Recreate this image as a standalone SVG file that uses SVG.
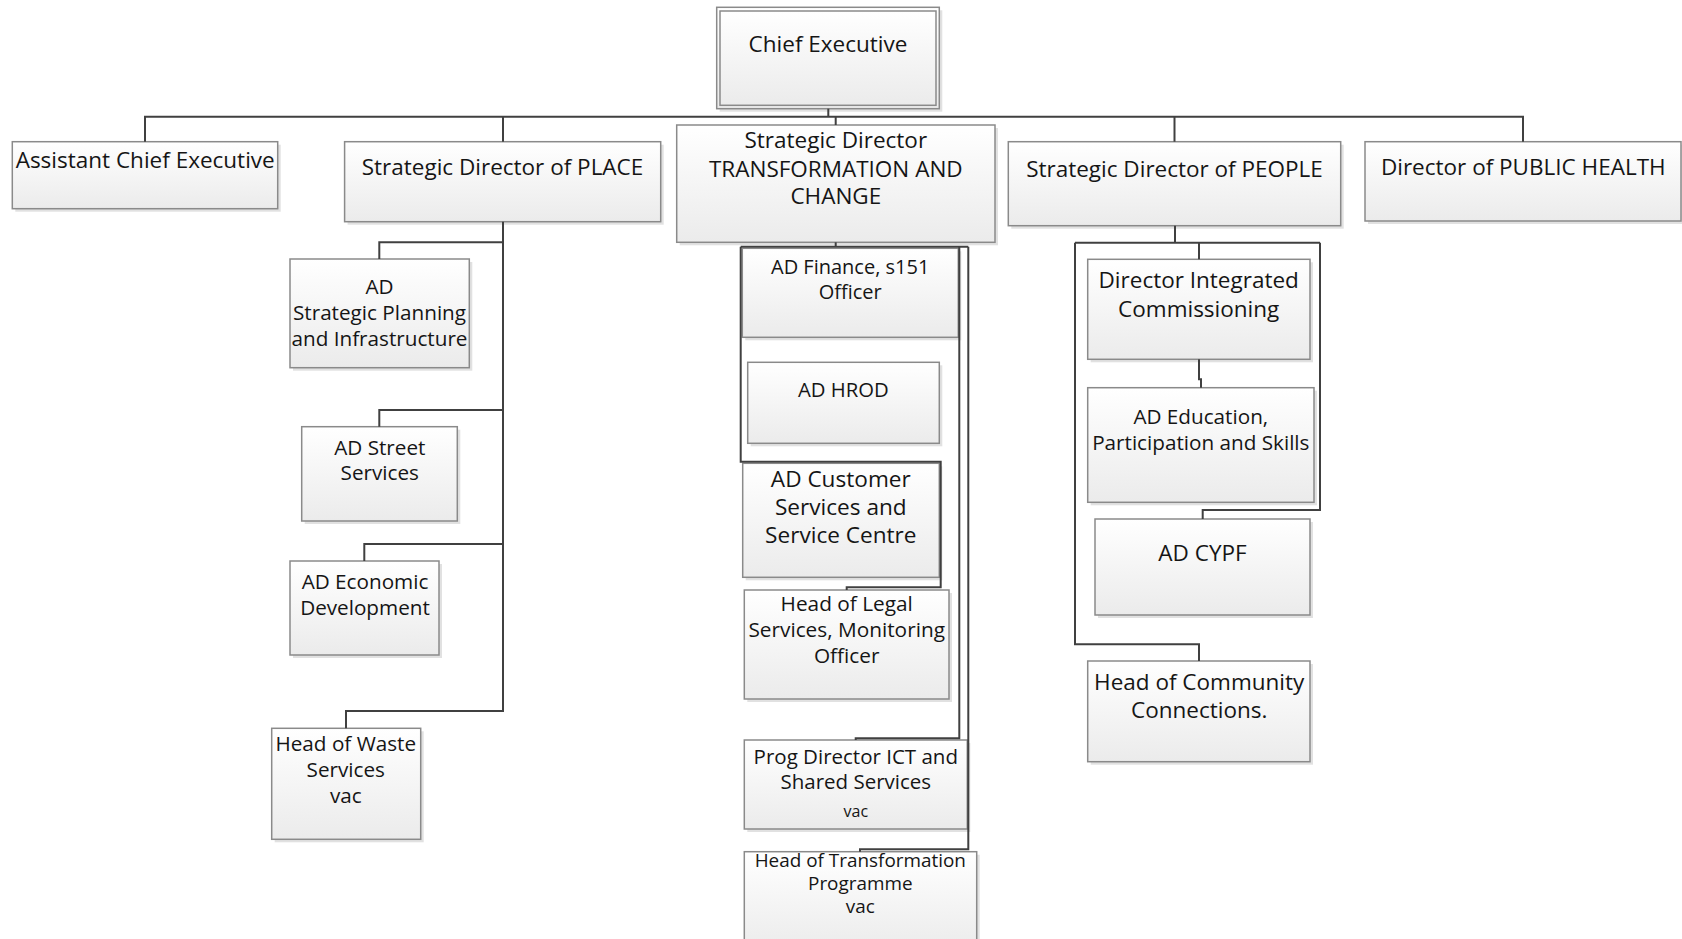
<svg xmlns="http://www.w3.org/2000/svg" width="1682" height="939" viewBox="0 0 1682 939">
<defs>
<linearGradient id="g" x1="0" y1="0" x2="0" y2="1">
<stop offset="0" stop-color="#ffffff"/>
<stop offset="1" stop-color="#ebebeb"/>
</linearGradient>
<style>
.sh{fill:#d4d4d4;opacity:0.7}
.bx{fill:url(#g);stroke:#8a8a8a;stroke-width:1.5}
.cn{fill:none;stroke:#404040;stroke-width:2}
text{font-family:"Open Sans","Liberation Sans",sans-serif;fill:#151515;text-anchor:middle}
.t1{font-size:22.5px}
.t2{font-size:20.7px}
</style>
</defs>
<rect width="1682" height="939" fill="#ffffff"/>

<g id="ce">
<rect class="sh" x="719.7" y="10.3" width="222.6" height="101.4"/>
<rect class="bx" x="716.7" y="7.3" width="222.6" height="101.4"/>
<rect class="bx" x="720" y="11" width="216" height="94.3"/>
<text class="t1" x="828" y="51.5">Chief Executive</text>
</g>

<g id="ace">
<rect class="sh" x="15.3" y="144.7" width="265.4" height="67"/>
<rect class="bx" x="12.3" y="141.7" width="265.4" height="67"/>
<text class="t1" x="145.2" y="168">Assistant Chief Executive</text>
</g>

<g id="place">
<rect class="sh" x="347.6" y="144.7" width="316.1" height="80"/>
<rect class="bx" x="344.6" y="141.7" width="316.1" height="80"/>
<text class="t1" x="502.5" y="175">Strategic Director of PLACE</text>
</g>

<g id="transformation">
<rect class="sh" x="679.7" y="128" width="318.3" height="117.3"/>
<rect class="bx" x="676.7" y="125" width="318.3" height="117.3"/>
<text class="t1" x="835.8" y="147.7">Strategic Director</text>
<text class="t1" x="835.8" y="176.7">TRANSFORMATION AND</text>
<text class="t1" x="835.8" y="204.3">CHANGE</text>
</g>

<g id="people">
<rect class="sh" x="1011.3" y="144.7" width="332.4" height="84"/>
<rect class="bx" x="1008.3" y="141.7" width="332.4" height="84"/>
<text class="t1" x="1174.5" y="177.3">Strategic Director of PEOPLE</text>
</g>

<g id="publichealth">
<rect class="sh" x="1368" y="144.7" width="316" height="79.3"/>
<rect class="bx" x="1365" y="141.7" width="316" height="79.3"/>
<text class="t1" x="1523.3" y="175">Director of PUBLIC HEALTH</text>
</g>

<g id="ad-spi">
<rect class="sh" x="293" y="262" width="179.3" height="108.7"/>
<rect class="bx" x="290" y="259" width="179.3" height="108.7"/>
<text class="t2" x="379.5" y="294">AD</text>
<text class="t2" x="379.5" y="320">Strategic Planning</text>
<text class="t2" x="379.5" y="345.7">and Infrastructure</text>
</g>

<g id="ad-street">
<rect class="sh" x="304.7" y="429.7" width="155.6" height="94.3"/>
<rect class="bx" x="301.7" y="426.7" width="155.6" height="94.3"/>
<text class="t2" x="379.8" y="455">AD Street</text>
<text class="t2" x="379.8" y="480">Services</text>
</g>

<g id="ad-econ">
<rect class="sh" x="293" y="564" width="149" height="94"/>
<rect class="bx" x="290" y="561" width="149" height="94"/>
<text class="t2" x="365" y="589">AD Economic</text>
<text class="t2" x="365" y="615">Development</text>
</g>

<g id="waste">
<rect class="sh" x="274.7" y="731.3" width="149" height="111"/>
<rect class="bx" x="271.7" y="728.3" width="149" height="111"/>
<text class="t2" x="345.8" y="751">Head of Waste</text>
<text class="t2" x="345.8" y="776.7">Services</text>
<text class="t2" x="345.8" y="802.7">vac</text>
</g>

<g id="ad-finance">
<rect class="sh" x="745.3" y="251.3" width="216" height="89"/>
<rect class="bx" x="742.3" y="248.3" width="216" height="89"/>
<text x="850.2" y="273.7" style="font-size:20px">AD Finance, s151</text>
<text x="850.2" y="299" style="font-size:20px">Officer</text>
</g>

<g id="ad-hrod">
<rect class="sh" x="750.7" y="365.3" width="191.6" height="81"/>
<rect class="bx" x="747.7" y="362.3" width="191.6" height="81"/>
<text x="843.3" y="396.7" style="font-size:20.3px">AD HROD</text>
</g>

<g id="ad-customer">
<rect class="sh" x="745.7" y="466.3" width="196.6" height="114"/>
<rect class="bx" x="742.7" y="463.3" width="196.6" height="114"/>
<text x="840.8" y="486.7" style="font-size:22.6px">AD Customer</text>
<text x="840.8" y="515" style="font-size:22.6px">Services and</text>
<text x="840.8" y="543.3" style="font-size:22.6px">Service Centre</text>
</g>

<g id="legal">
<rect class="sh" x="747.3" y="593" width="204.7" height="109"/>
<rect class="bx" x="744.3" y="590" width="204.7" height="109"/>
<text x="846.7" y="611" style="font-size:20.8px">Head of Legal</text>
<text x="846.7" y="637.3" style="font-size:20.8px">Services, Monitoring</text>
<text x="846.7" y="663.3" style="font-size:20.8px">Officer</text>
</g>

<g id="prog-ict">
<rect class="sh" x="747.3" y="743" width="223" height="89"/>
<rect class="bx" x="744.3" y="740" width="223" height="89"/>
<text x="855.8" y="764" style="font-size:20.5px">Prog Director ICT and</text>
<text x="855.8" y="789" style="font-size:20.5px">Shared Services</text>
<text x="855.8" y="816.7" style="font-size:16px">vac</text>
</g>

<g id="transformation-prog">
<rect class="sh" x="747.3" y="854.7" width="232.4" height="100"/>
<rect class="bx" x="744.3" y="851.7" width="232.4" height="100"/>
<text x="860.3" y="866.7" style="font-size:18.9px">Head of Transformation</text>
<text x="860.3" y="890" style="font-size:18.9px">Programme</text>
<text x="860.3" y="913.3" style="font-size:18.9px">vac</text>
</g>

<g id="dir-ic">
<rect class="sh" x="1090.7" y="262.3" width="222.3" height="100"/>
<rect class="bx" x="1087.7" y="259.3" width="222.3" height="100"/>
<text class="t1" x="1198.7" y="288.3">Director Integrated</text>
<text class="t1" x="1198.7" y="316.7">Commissioning</text>
</g>

<g id="ad-edu">
<rect class="sh" x="1090.7" y="390.7" width="226.3" height="114.6"/>
<rect class="bx" x="1087.7" y="387.7" width="226.3" height="114.6"/>
<text class="t2" x="1200.8" y="424.3">AD Education,</text>
<text class="t2" x="1200.8" y="450">Participation and Skills</text>
</g>

<g id="ad-cypf">
<rect class="sh" x="1098" y="522" width="215" height="96"/>
<rect class="bx" x="1095" y="519" width="215" height="96"/>
<text class="t1" x="1202.5" y="560.5">AD CYPF</text>
</g>

<g id="community">
<rect class="sh" x="1090.7" y="664" width="222.3" height="100.7"/>
<rect class="bx" x="1087.7" y="661" width="222.3" height="100.7"/>
<text class="t1" x="1199.2" y="690">Head of Community</text>
<text class="t1" x="1199.2" y="718.3">Connections.</text>
</g>

<g id="connectors">
<path class="cn" d="M828.3,108.7 V116.7"/>
<path class="cn" d="M145,141.7 V116.7 H1523 V141.7"/>
<path class="cn" d="M503,116.7 V141.7"/>
<path class="cn" d="M835.7,116.7 V125"/>
<path class="cn" d="M1174.5,116.7 V141.7"/>

<path class="cn" d="M503,221.7 V711 H346 V728.3"/>
<path class="cn" d="M503,242.3 H379.3 V259"/>
<path class="cn" d="M503,410 H379.3 V426.7"/>
<path class="cn" d="M503,544 H364.3 V561"/>

<path class="cn" d="M835.7,242.3 V246.7"/>
<path class="cn" d="M740.7,246.7 H968.3"/>
<path class="cn" d="M740.7,246.7 V461.7 H940.7 V587.3 H846.7 V590"/>
<path class="cn" d="M959.3,246.7 V738.3 H855.7 V740"/>
<path class="cn" d="M968.3,246.7 V849.3 H860 V851.7"/>

<path class="cn" d="M1175,225.7 V242.7"/>
<path class="cn" d="M1075,242.7 H1320"/>
<path class="cn" d="M1075,242.7 V644.3 H1199 V661"/>
<path class="cn" d="M1320,242.7 V510 H1202.7 V519"/>
<path class="cn" d="M1199,242.7 V259.3"/>
<path class="cn" d="M1199,359.3 V379.3 H1201 V387.7"/>
</g>
</svg>
